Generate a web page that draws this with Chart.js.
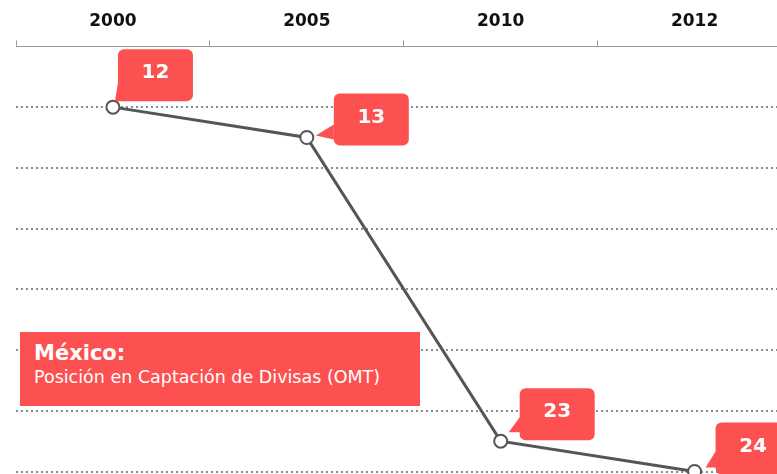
<!DOCTYPE html>
<html>
<head>
<meta charset="utf-8">
<script src="https://cdn.jsdelivr.net/npm/chart.js@4/dist/chart.umd.min.js"></script>
<style>
  html, body { margin: 0; padding: 0; background: #fff; overflow: hidden; }
  #wrap { position: relative; width: 800px; height: 474px; overflow: hidden; }
  #legendBox {
    position: absolute; left: 20px; top: 332px; width: 400px; height: 74px;
    background: #fd5151; color: #fff; font-family: "DejaVu Sans", sans-serif;
    box-sizing: border-box; padding: 8px 0 0 14px;
  }
  #legendBox .t { font-weight: bold; font-size: 21px; line-height: 26px; }
  #legendBox .s { font-size: 17.5px; line-height: 22px; }
</style>
</head>
<body>
<div id="wrap">
  <canvas id="chart" width="800" height="480"></canvas>
  <div id="legendBox"><div class="t">México:</div><div class="s">Posición en Captación de Divisas (OMT)</div></div>
</div>
<script>
// data
const years = ['2000', '2005', '2010', '2012'];
const ranks = [12, 13, 23, 24];

const red = '#fd5151';

// callout placement relative to each point: box offset, pointer tip and base
const callouts = [
  { box: [5, -58],  tip: [2, -6],  b1: [6, -30],  b2: [12, -6] },
  { box: [27, -44], tip: [9, -2],  b1: [27, -13], b2: [27, 2] },
  { box: [19, -53], tip: [8, -9],  b1: [19, -24], b2: [30, -9] },
  { box: [21, -49], tip: [11, -4], b1: [21, -20], b2: [30, -4] }
];

const calloutPlugin = {
  id: 'callouts',
  afterDatasetsDraw(chart) {
    const ctx = chart.ctx;
    const meta = chart.getDatasetMeta(0);
    ctx.save();
    meta.data.forEach((pt, i) => {
      const c = callouts[i];
      const x = pt.x, y = pt.y;
      const bx = x + c.box[0], by = y + c.box[1], bw = 75, bh = 52;
      ctx.fillStyle = red;
      ctx.beginPath();
      ctx.moveTo(x + c.b1[0], y + c.b1[1]);
      ctx.lineTo(x + c.tip[0], y + c.tip[1]);
      ctx.lineTo(x + c.b2[0], y + c.b2[1]);
      ctx.closePath();
      ctx.fill();
      ctx.beginPath();
      ctx.roundRect(bx, by, bw, bh, 6);
      ctx.fill();
      ctx.fillStyle = '#fff';
      ctx.font = 'bold 20px "DejaVu Sans"';
      ctx.textAlign = 'center';
      ctx.textBaseline = 'middle';
      ctx.fillText(String(ranks[i]), bx + bw / 2, by + bh / 2 - 2);
    });
    ctx.restore();
  }
};

new Chart(document.getElementById('chart'), {
  type: 'line',
  data: {
    labels: years,
    datasets: [{
      data: ranks,
      borderColor: '#555',
      borderWidth: 3,
      tension: 0,
      pointRadius: 6.5,
      pointBorderWidth: 2,
      pointBorderColor: '#555',
      pointBackgroundColor: '#fff',
      clip: false
    }]
  },
  options: {
    responsive: false,
    animation: false,
    events: [],
    layout: { padding: { top: 2, left: 16, right: 8, bottom: 3 } },
    plugins: { legend: { display: false }, tooltip: { enabled: false } },
    scales: {
      x: {
        position: 'top',
        offset: true,
        grid: { offset: true, drawOnChartArea: false, drawTicks: true, tickLength: 6, color: '#999' },
        border: { display: true, color: '#999', width: 1 },
        ticks: { color: '#111', padding: 9, font: { family: 'DejaVu Sans', size: 17, weight: 'bold' } }
      },
      y: {
        reverse: true,
        min: 10,
        max: 24,
        ticks: { display: false, stepSize: 2 },
        border: { display: false, dash: [2, 3] },
        grid: {
          drawTicks: false,
          tickLength: 0,
          lineWidth: 2,
          color: c => (c.tick && c.tick.value === 10) ? 'rgba(0,0,0,0)' : '#8c8c8c'
        }
      }
    }
  },
  plugins: [calloutPlugin]
});
</script>
</body>
</html>
